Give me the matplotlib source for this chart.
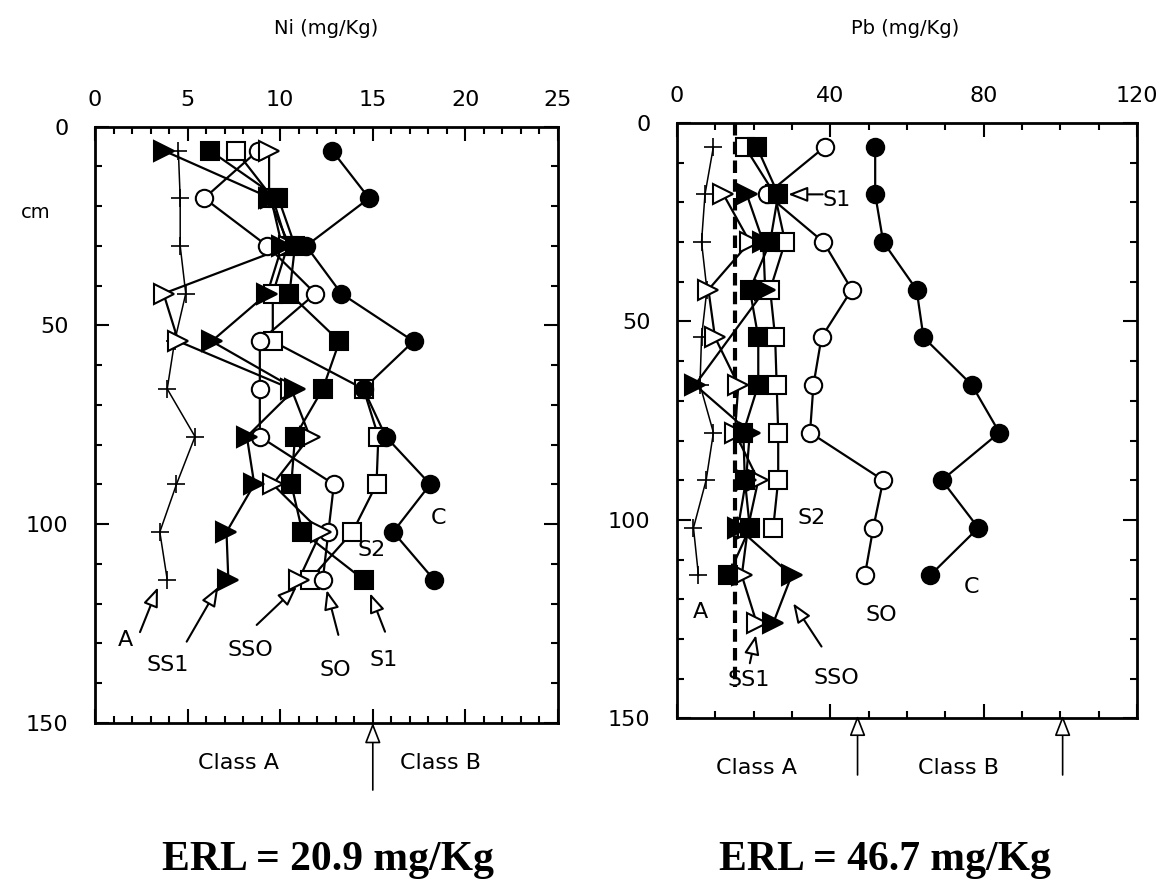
import matplotlib
matplotlib.use('Agg')
import matplotlib.pyplot as plt
from matplotlib.ticker import MultipleLocator

plt.rcParams['font.family'] = ['DejaVu Sans']

# sampling depths (cm)
DEPTH = [6, 18, 30, 42, 54, 66, 78, 90, 102, 114]

# Ni (mg/Kg) per core
NI_A = [4.5, 4.6, 4.6, 4.9, 4.3, 3.9, 5.4, 4.4, 3.5, 3.9]
NI_SS1 = [3.7, 9.5, 10.1, 9.3, 6.3, 10.8, 8.2, 8.6, 7.1, 7.2]
NI_SSO = [9.4, 9.4, 10.5, 3.7, 4.5, 10.6, 11.6, 9.6, 12.2, 11.0]
NI_SO = [8.8, 5.9, 9.3, 11.9, 8.9, 8.9, 8.9, 12.9, 12.6, 12.3]
NI_S1 = [6.2, 9.9, 10.8, 10.5, 13.2, 12.3, 10.8, 10.6, 11.2, 14.5]
NI_S2 = [7.6, 9.6, 10.4, 9.6, 9.6, 14.5, 15.3, 15.2, 13.9, 11.6]
NI_C = [12.8, 14.8, 11.4, 13.3, 17.2, 14.5, 15.7, 18.1, 16.1, 18.3]

# Pb (mg/Kg) per core
PB_A = [9.5, 7.3, 6.4, 7.8, 6.4, 6.0, 9.5, 7.6, 4.3, 5.6]
PB_C = [51.7, 51.7, 53.8, 62.5, 64.3, 76.9, 84.1, 69.1, 78.6, 66.0]
PB_SO = [38.6, 23.4, 38.2, 45.6, 37.7, 35.6, 34.7, 53.8, 51.2, 49.0]
PB_S1 = [20.8, 26.4, 24.3, 19.0, 21.2, 21.2, 17.3, 17.7, 19.0, 13.4]
PB_S2_DEPTH = [6, 18, 30, 42, 54, 66, 78, 90, 102]
PB_S2 = [17.7, 25.5, 28.2, 24.3, 25.6, 26.0, 26.4, 26.4, 25.1]
PB_SS1_DEPTH = [18, 30, 42, 66, 78, 90, 102, 114, 126]
PB_SS1 = [18.2, 22.5, 23.0, 4.7, 19.0, 18.0, 15.9, 29.9, 25.1]
PB_SSO_DEPTH = [18, 30, 42, 54, 66, 78, 90, 102, 114, 126]
PB_SSO = [12.1, 19.0, 8.2, 9.9, 16.0, 15.1, 21.2, 18.5, 16.9, 20.8]
PB_BACKGROUND = 15.1

W, H = 1170, 894
fig = plt.figure(figsize=(W / 100, H / 100), dpi=100)


def px_axes(l, t, r, b):
    return fig.add_axes([l / W, 1 - b / H, (r - l) / W, (b - t) / H])


def ftext(x, y, s, **kw):
    fig.text(x / W, 1 - y / H, s, ha='center', va='center', **kw)


def style(ax, xmax, xmajor, xminor):
    ax.set_xlim(0, xmax)
    ax.set_ylim(150, 0)
    ax.xaxis.set_major_locator(MultipleLocator(xmajor))
    ax.xaxis.set_minor_locator(MultipleLocator(xminor))
    ax.yaxis.set_major_locator(MultipleLocator(50))
    ax.yaxis.set_minor_locator(MultipleLocator(10))
    ax.tick_params(which='both', direction='in', top=True, bottom=True, left=True,
                   right=True, labeltop=True, labelbottom=False, width=1.5, labelsize=16)
    ax.tick_params(which='major', length=10, pad=12)
    ax.tick_params(axis='y', which='major', pad=19)
    ax.tick_params(which='minor', length=5)
    for s in ax.spines.values():
        s.set_linewidth(2)


def series(ax, x, y, marker, filled, ms):
    ax.plot(x, y, color='black', lw=1.6, zorder=2)
    ax.plot(x, y, ls='none', marker=marker, ms=ms, mfc='black' if filled else 'white',
            mec='black', mew=1.5, zorder=3)


def plus_series(ax, x, y):
    ax.plot(x, y, color='black', lw=1.1, marker='+', ms=13, mew=1.2, zorder=2)


ARW = dict(arrowstyle='-|>,head_length=0.9,head_width=0.35', mutation_scale=13,
           fc='white', ec='black', lw=1.5, shrinkA=0, shrinkB=0)


def label(ax, s, xy_text, xy_head=None, xy_tail=None):
    ax.text(*xy_text, s, ha='center', va='center', fontsize=16, zorder=5)
    if xy_head is not None:
        ax.annotate('', xy=xy_head, xytext=xy_tail, arrowprops=ARW, zorder=5)


# ---- Ni panel
ax1 = px_axes(95, 126.7, 558, 722.7)
style(ax1, 25, 5, 1)
plus_series(ax1, NI_A, DEPTH)
series(ax1, NI_S2, DEPTH, 's', False, 13)
series(ax1, NI_SO, DEPTH, 'o', False, 12.5)
series(ax1, NI_SSO, DEPTH, '>', False, 15)
series(ax1, NI_S1, DEPTH, 's', True, 13)
series(ax1, NI_SS1, DEPTH, '>', True, 15)
series(ax1, NI_C, DEPTH, 'o', True, 12.5)

label(ax1, 'A', (1.62, 129.2), (3.4, 115.9), (2.43, 127.2))
label(ax1, 'SS1', (3.9, 135.5), (6.66, 115.8), (4.95, 129.6))
label(ax1, 'SSO', (8.4, 131.7), (10.9, 115.8), (8.73, 125.4))
label(ax1, 'SO', (12.96, 136.7), (12.51, 116.6), (13.14, 127.9))
label(ax1, 'S1', (15.57, 134.2), (14.85, 117.4), (15.66, 127.1))
label(ax1, 'S2', (14.94, 106.5))
label(ax1, 'C', (18.54, 98.6))

# ---- Pb panel
ax2 = px_axes(677, 122.9, 1137, 718.4)
style(ax2, 120, 40, 10)
ax2.plot([PB_BACKGROUND, PB_BACKGROUND], [0, 142], color='black', lw=3,
         dashes=(3, 1.5), zorder=1)
plus_series(ax2, PB_A, DEPTH)
series(ax2, PB_S2, PB_S2_DEPTH, 's', False, 13)
series(ax2, PB_SO, DEPTH, 'o', False, 12.5)
series(ax2, PB_SSO, PB_SSO_DEPTH, '>', False, 15)
series(ax2, PB_S1, DEPTH, 's', True, 13)
series(ax2, PB_SS1, PB_SS1_DEPTH, '>', True, 15)
series(ax2, PB_C, DEPTH, 'o', True, 12.5)

ax2.text(38.0, 19.4, 'S1', ha='left', va='center', fontsize=16, zorder=5)
ax2.annotate('', xy=(29.0, 18), xytext=(38.0, 18), arrowprops=ARW, zorder=5)
label(ax2, 'S2', (35.1, 99.6))
label(ax2, 'A', (6.0, 123.1))
label(ax2, 'SO', (53.4, 124.0))
label(ax2, 'SS1', (18.6, 140.3), (20.6, 129.0), (19.0, 136.1))
label(ax2, 'SSO', (41.7, 139.9), (30.3, 121.0), (37.7, 131.9))
label(ax2, 'C', (76.9, 116.8))

# class-boundary arrows below the panels
BARW = dict(ARW, mutation_scale=14)
ax1.annotate('', xy=(15, 0), xycoords=('data', 'axes fraction'),
             xytext=(15, -0.113), textcoords=('data', 'axes fraction'),
             arrowprops=dict(BARW, lw=1.2), annotation_clip=False)
for xv in (47.1, 100.6):
    ax2.annotate('', xy=(xv, 0.005), xycoords=('data', 'axes fraction'),
                 xytext=(xv, -0.095), textcoords=('data', 'axes fraction'),
                 arrowprops=dict(BARW, lw=1.2), annotation_clip=False)

# free texts
ftext(326, 28, 'Ni (mg/Kg)', fontsize=14)
ftext(905, 28, 'Pb (mg/Kg)', fontsize=14)
ftext(36, 212, 'cm', fontsize=14)
ftext(238, 763, 'Class A', fontsize=16)
ftext(440, 763, 'Class B', fontsize=16)
ftext(756, 768, 'Class A', fontsize=16)
ftext(958, 768, 'Class B', fontsize=16)
ftext(328, 860, 'ERL = 20.9 mg/Kg', fontsize=30, fontweight='bold', family='Liberation Serif')
ftext(885, 860, 'ERL = 46.7 mg/Kg', fontsize=30, fontweight='bold', family='Liberation Serif')

fig.savefig('out.png', dpi=100)
